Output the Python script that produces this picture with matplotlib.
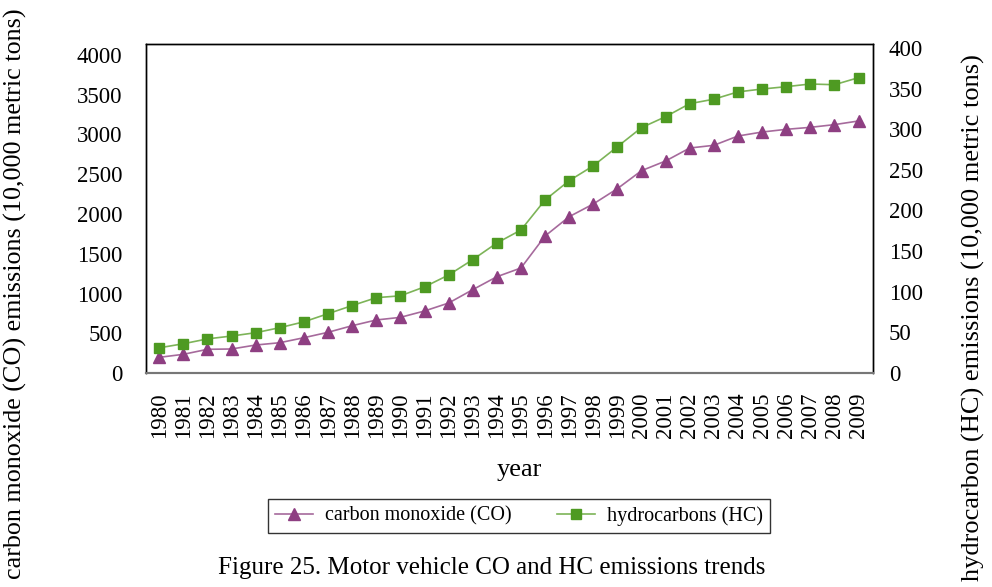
import matplotlib
matplotlib.use("Agg")
import matplotlib.pyplot as plt

years = list(range(1980, 2010))
year_labels = [str(y) for y in years]
co_values = [197, 235, 298, 302, 352, 381, 444, 512, 595, 667, 700, 780, 880, 1048, 1211,
             1321, 1723, 1966, 2126, 2319, 2545, 2667, 2830, 2864, 2981, 3031, 3065, 3090, 3124, 3170]
hc_values = [31, 36, 42, 45.5, 49.6, 55.8, 63, 73, 83, 92.7, 95, 106, 120.6, 139.5, 160,
             176, 213, 236.7, 255, 278.5, 302, 315.5, 331.5, 337, 346, 349.5, 352.4, 355.7, 354.8, 363.5]
left_ticks = [0, 500, 1000, 1500, 2000, 2500, 3000, 3500, 4000]
right_ticks = [0, 50, 100, 150, 200, 250, 300, 350, 400]

plt.rcParams['font.family'] = ['Liberation Serif', 'DejaVu Serif']
fs = 16.5

W, H = 992, 587
fig = plt.figure(figsize=(W / 100, H / 100), dpi=100)
ax = fig.add_axes([146 / W, 1 - 373 / H, (873 - 146) / W, (373 - 44) / H])
ax2 = ax.twinx()

co_color = '#8E3F82'
hc_color = '#4E9A22'
l1, = ax.plot(years, co_values, color='#A66A9C', lw=1.2, marker='^', ms=8.5,
              markerfacecolor=co_color, markeredgecolor=co_color, label='carbon monoxide (CO)')
l2, = ax2.plot(years, hc_values, color='#7DB458', lw=1.2, marker='s', ms=6.5,
               markerfacecolor=hc_color, markeredgecolor=hc_color, label='hydrocarbons (HC)')

ax.set_xlim(1979.45, 2009.6)
ax.set_ylim(0, 4000 * 329 / 318)
ax2.set_ylim(0, 400 * 329 / 325)
ax.set_yticks(left_ticks)
ax.set_yticklabels([str(t) for t in left_ticks], fontsize=fs)
ax2.set_yticks(right_ticks)
ax2.set_yticklabels([str(t) for t in right_ticks], fontsize=fs)
ax.set_xticks(years)
ax.set_xticklabels(year_labels, rotation=90, fontsize=fs)
ax.tick_params(axis='y', length=0, pad=17)
ax.tick_params(axis='x', length=0, pad=14)
ax2.tick_params(axis='y', length=0, pad=11.5)
for a in (ax, ax2):
    for s in a.spines.values():
        s.set_linewidth(1.0)
        s.set_color('black')
    a.spines['bottom'].set_color('#777777')
    a.spines['bottom'].set_linewidth(1.5)

fig.text(519 / W, 1 - 470 / H, 'year', ha='center', va='center', fontsize=19)
fig.text(15 / W, 1 - 294 / H, 'carbon monoxide (CO) emissions (10,000 metric tons)',
         rotation=90, ha='center', va='center', fontsize=18.8)
fig.text(973 / W, 1 - 318 / H, 'hydrocarbon (HC) emissions (10,000 metric tons)',
         rotation=90, ha='center', va='center', fontsize=19)

leg = fig.legend(handles=[l1, l2], loc='center', bbox_to_anchor=(519 / W, 1 - 516 / H),
                 ncol=2, frameon=True, fancybox=False, fontsize=14.5, handlelength=1.9,
                 handletextpad=0.6, columnspacing=2.25, borderpad=0.35, edgecolor='black')
leg.get_frame().set_linewidth(1.0)

fig.text(492 / W, 1 - 568 / H, 'Figure 25. Motor vehicle CO and HC emissions trends',
         ha='center', va='center', fontsize=18)

fig.savefig('out.png', dpi=100)
